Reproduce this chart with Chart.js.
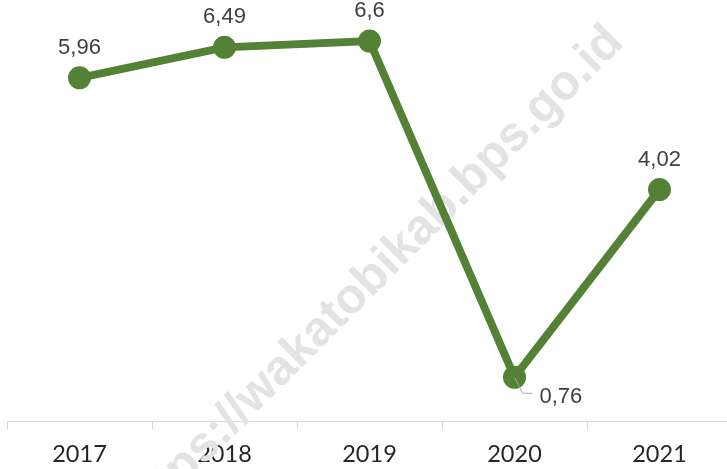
<!DOCTYPE html>
<html>
<head>
<meta charset="utf-8">
<script src="https://cdn.jsdelivr.net/npm/chart.js@4/dist/chart.umd.min.js"></script>
<style>
  html, body { margin: 0; padding: 0; background: #ffffff; overflow: hidden; }
  #wrap { width: 745px; height: 469px; }
</style>
</head>
<body>
<div id="wrap"><canvas id="c" width="745" height="469"></canvas></div>
<script>
const categories = ["2017", "2018", "2019", "2020", "2021"];
const values = [5.96, 6.49, 6.6, 0.76, 4.02];
const valueLabels = ["5,96", "6,49", "6,6", "0,76", "4,02"];
const watermarkText = "https://wakatobikab.bps.go.id";

const watermarkPlugin = {
  id: 'watermark',
  beforeDatasetsDraw(chart) {
    const ctx = chart.ctx;
    ctx.save();
    ctx.translate(372, 278);
    ctx.rotate(-45 * Math.PI / 180);
    ctx.font = 'bold 49px "Liberation Sans", Arial, sans-serif';
    ctx.fillStyle = '#e3e3e3';
    ctx.textAlign = 'center';
    ctx.textBaseline = 'middle';
    ctx.fillText(watermarkText, 0, 0);
    ctx.restore();
  }
};

const labelPlugin = {
  id: 'valueLabels',
  afterDatasetsDraw(chart) {
    const ctx = chart.ctx;
    const meta = chart.getDatasetMeta(0);
    ctx.save();
    ctx.font = '22px "Liberation Sans", Arial, sans-serif';
    ctx.fillStyle = '#404040';
    meta.data.forEach((pt, i) => {
      if (i === 3) {
        ctx.strokeStyle = '#a6a6a6';
        ctx.lineWidth = 1;
        ctx.beginPath();
        ctx.moveTo(pt.x, pt.y);
        ctx.lineTo(pt.x + 8, pt.y + 16);
        ctx.lineTo(pt.x + 18, pt.y + 16);
        ctx.stroke();
        ctx.textAlign = 'left';
        ctx.textBaseline = 'middle';
        ctx.fillText(valueLabels[i], pt.x + 25, pt.y + 20);
      } else {
        ctx.textAlign = 'center';
        ctx.textBaseline = 'middle';
        ctx.fillText(valueLabels[i], pt.x, pt.y - 30);
      }
    });
    ctx.restore();
  }
};

new Chart(document.getElementById('c'), {
  type: 'line',
  data: {
    labels: categories,
    datasets: [{
      data: values,
      borderColor: '#538135',
      backgroundColor: '#538135',
      borderWidth: 8,
      pointRadius: 11.5,
      pointHoverRadius: 11.5,
      pointBorderWidth: 0,
      pointBackgroundColor: '#538135',
      tension: 0,
      fill: false
    }]
  },
  options: {
    responsive: false,
    devicePixelRatio: 1,
    animation: false,
    layout: { autoPadding: false, padding: { left: 7, right: 13, top: 18, bottom: 2 } },
    plugins: { legend: { display: false }, tooltip: { enabled: false } },
    scales: {
      x: {
        offset: true,
        afterFit(scale) {
          scale.height = 46;
          scale.paddingLeft = 0;
          scale.paddingRight = 0;
        },
        grid: { offset: true, drawOnChartArea: false, drawTicks: true, tickLength: 8, color: '#d9d9d9', lineWidth: 1 },
        border: { display: true, color: '#d9d9d9', width: 1 },
        ticks: { color: '#262626', font: { family: 'Lato, "Open Sans", sans-serif', size: 23.5 }, padding: 11, maxRotation: 0 }
      },
      y: {
        display: false,
        min: 0,
        max: 7
      }
    }
  },
  plugins: [watermarkPlugin, labelPlugin]
});
</script>
</body>
</html>
